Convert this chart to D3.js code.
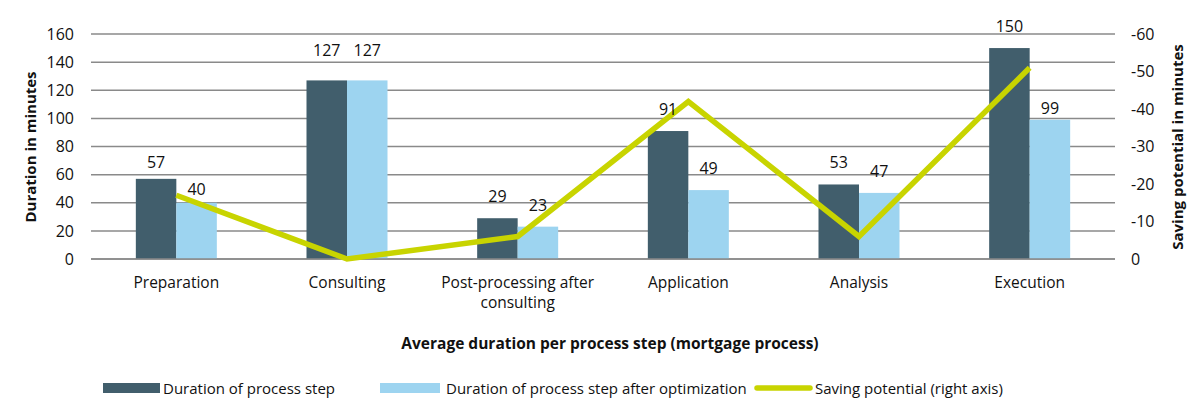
<!DOCTYPE html>
<html><head><meta charset="utf-8">
<script src="https://cdn.jsdelivr.net/npm/d3@7"></script>
<style>body{margin:0;background:#fff;} text{font-family:"Open Sans",sans-serif;fill:#111;}</style>
</head><body><svg id="c" width="1200" height="405"></svg>
<script>
const categories = ["Preparation","Consulting","Post-processing after|consulting","Application","Analysis","Execution"];
const durationBefore = [57,127,29,91,53,150];
const durationAfter = [40,127,23,49,47,99];
const saving = [-17,0,-6,-42,-6,-51];
const leftTicks = [0,20,40,60,80,100,120,140,160];
const rightTicks = [0,-10,-20,-30,-40,-50,-60];

const svg = d3.select("#c");
const L=91, R=1115, T=34, B=259;
const x = d3.scaleBand().domain(categories).range([L,R]);
const y = d3.scaleLinear().domain([0,160]).range([B,T]);
const y2 = d3.scaleLinear().domain([0,-60]).range([B,T]);
const cDark="#415e6c", cLight="#9dd4f0", cLine="#c8d400";

svg.append("g").selectAll("line").data(leftTicks).join("line")
  .attr("x1",L).attr("x2",R).attr("y1",d=>y(d)).attr("y2",d=>y(d))
  .attr("stroke","#8a8a8a").attr("stroke-width",1.5);

const ga = svg.append("g").attr("transform",`translate(${L},0)`)
  .call(d3.axisLeft(y).tickValues(leftTicks).tickSize(0).tickPadding(17));
ga.select(".domain").remove();
ga.selectAll("text").style("font-size","16px").style("font-family","Open Sans");
const gb = svg.append("g").attr("transform",`translate(${R},0)`)
  .call(d3.axisRight(y2).tickValues(rightTicks).tickSize(0).tickPadding(16).tickFormat(d=>String(d)));
gb.select(".domain").remove();
gb.selectAll("text").style("font-size","16px").style("font-family","Open Sans");

const bw = 40.5;
const cx = d=>x(d)+x.bandwidth()/2;
svg.append("g").selectAll("rect").data(durationBefore).join("rect")
  .attr("x",(d,i)=>cx(categories[i])-bw).attr("width",bw)
  .attr("y",d=>y(d)).attr("height",d=>B-y(d)).attr("fill",cDark);
svg.append("g").selectAll("rect").data(durationAfter).join("rect")
  .attr("x",(d,i)=>cx(categories[i])).attr("width",bw)
  .attr("y",d=>y(d)).attr("height",d=>B-y(d)).attr("fill",cLight);

svg.append("line").attr("x1",L).attr("x2",R).attr("y1",B).attr("y2",B).attr("stroke","#8a8a8a").attr("stroke-width",1.5);

const line = d3.line().x((d,i)=>cx(categories[i])).y(d=>y2(d));
svg.append("path").datum(saving).attr("d",line).attr("fill","none")
  .attr("stroke",cLine).attr("stroke-width",5.5).attr("stroke-linejoin","miter");

// label gaps above bars (as placed in the original chart)
const gapBefore = i => ({0:11,1:24}[i] ?? 16);
const gapAfter = i => ({0:8,1:24,5:6}[i] ?? 16);
svg.append("g").selectAll("text").data(durationBefore).join("text")
  .attr("x",(d,i)=>cx(categories[i])-bw/2).attr("y",(d,i)=>y(d)-gapBefore(i))
  .attr("text-anchor","middle").style("font-size","16px").text(d=>d);
svg.append("g").selectAll("text").data(durationAfter).join("text")
  .attr("x",(d,i)=>cx(categories[i])+bw/2).attr("y",(d,i)=>y(d)-gapAfter(i))
  .attr("text-anchor","middle").style("font-size","16px").text(d=>d);

const cl = svg.append("g").selectAll("text").data(categories).join("text")
  .attr("x",d=>cx(d)).attr("y",288).attr("text-anchor","middle").style("font-size","15.5px");
cl.selectAll("tspan").data(d=>d.split("|").map(s=>({s,c:d}))).join("tspan")
  .attr("x",d=>cx(d.c)).attr("dy",(d,i)=>i?20:0).text(d=>d.s);

svg.append("text").attr("transform","translate(36,147) rotate(-90)").attr("text-anchor","middle")
  .style("font-size","15px").style("font-weight","bold").text("Duration in minutes");
svg.append("text").attr("transform","translate(1183,147) rotate(-90)").attr("text-anchor","middle")
  .style("font-size","15px").style("font-weight","bold").text("Saving potential in minutes");
svg.append("text").attr("x",610).attr("y",349).attr("text-anchor","middle")
  .style("font-size","15.5px").style("font-weight","bold").text("Average duration per process step (mortgage process)");

const lg = svg.append("g");
lg.append("rect").attr("x",103).attr("y",383).attr("width",57).attr("height",10).attr("fill",cDark);
lg.append("text").attr("x",163).attr("y",394).style("font-size",  "15px").text("Duration of process step");
lg.append("rect").attr("x",380).attr("y",383).attr("width",60).attr("height",10).attr("fill",cLight);
lg.append("text").attr("x",446).attr("y",394).style("font-size","15px").text("Duration of process step after optimization");
lg.append("line").attr("x1",757).attr("x2",810).attr("y1",388).attr("y2",388).attr("stroke",cLine).attr("stroke-width",5.5).attr("stroke-linecap","round");
lg.append("text").attr("x",815).attr("y",394).style("font-size","15px").text("Saving potential (right axis)");
</script></body></html>
